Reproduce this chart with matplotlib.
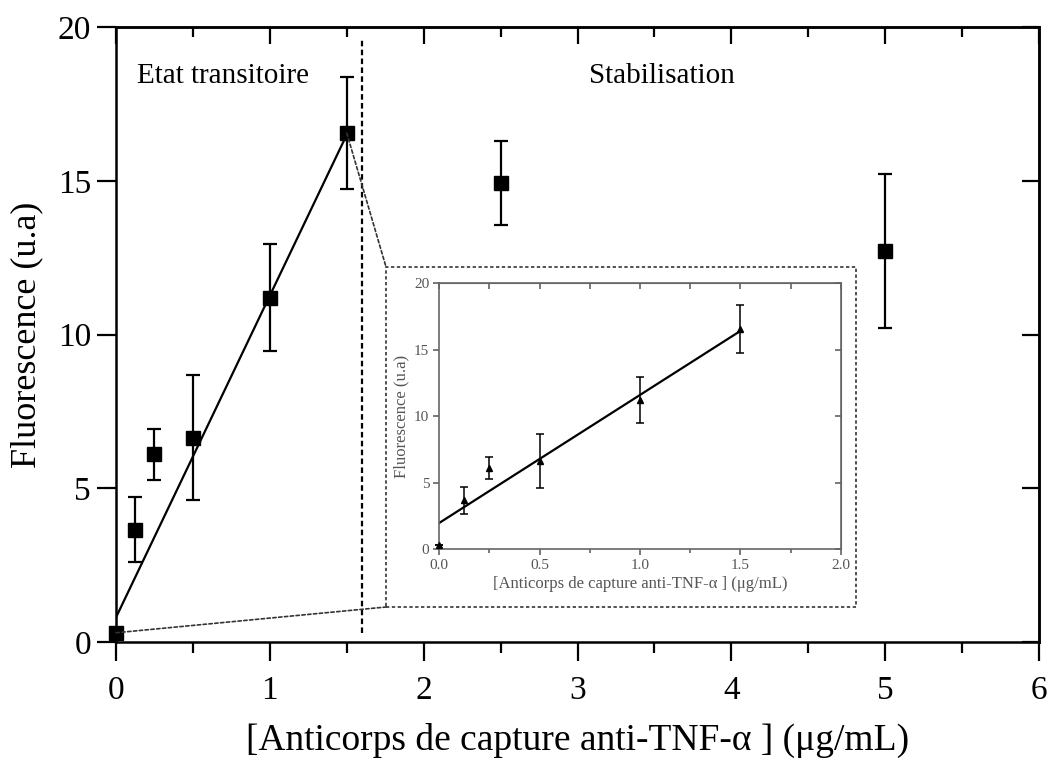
import numpy as np
import matplotlib
matplotlib.use("Agg")
import matplotlib.pyplot as plt
from matplotlib.ticker import MultipleLocator, FormatStrFormatter
from matplotlib.patches import Rectangle, ConnectionPatch

plt.rcParams['font.family'] = ['Liberation Serif', 'DejaVu Serif']

# données
conc = [0, 0.125, 0.25, 0.5, 1.0, 1.5, 2.5, 5.0]
fluo = [0.3, 3.65, 6.1, 6.65, 11.2, 16.55, 14.93, 12.72]
err = [0.0, 1.05, 0.83, 2.03, 1.75, 1.83, 1.38, 2.5]
n_trans = 6  # points de l'état transitoire

# droites de régression (extrémités lues)
fit_main_x = [0.0, 1.5]
fit_main_y = [0.8, 16.5]
fit_inset_x = [0.0, 1.5]
fit_inset_y = [1.95, 16.4]

xlabel = "[Anticorps de capture anti-TNF-\u03b1 ] (\u03bcg/mL)"
ylabel = "Fluorescence (u.a)"

fig = plt.figure(figsize=(10.49, 7.62), dpi=100)
ax = fig.add_axes([0.1106, 0.1575, 0.8799, 0.807])

ax.errorbar(conc, fluo, yerr=err, fmt='s', color='k', ms=10, capsize=5,
            elinewidth=1.6, capthick=1.6, zorder=3, clip_on=False)
ax.plot(fit_main_x, fit_main_y, color='k', lw=1.6)

# séparation des deux régimes
ax.plot([1.6, 1.6], [0.3, 19.6], color='k', lw=1.6, ls=(0, (2.5, 1.5)))
ax.text(0.137, 18.4, "Etat transitoire", fontsize=21, va='center', ha='left')
ax.text(3.55, 18.4, "Stabilisation", fontsize=21, va='center', ha='center')

ax.set_xlim(0, 6)
ax.set_ylim(0, 20)
ax.xaxis.set_major_locator(MultipleLocator(1))
ax.xaxis.set_minor_locator(MultipleLocator(0.5))
ax.yaxis.set_major_locator(MultipleLocator(5))
ax.tick_params(which='major', direction='out', length=14, width=1.6,
               labelsize=24, pad=10)
ax.tick_params(axis='y', pad=4)
ax.tick_params(which='minor', direction='out', length=8, width=1.6)
ax.set_xlabel(xlabel, fontsize=27, labelpad=12)
ax.set_ylabel(ylabel, fontsize=26, labelpad=10)
for s in ax.spines.values():
    s.set_linewidth(1.8)

top = ax.secondary_xaxis('top')
top.xaxis.set_major_locator(MultipleLocator(1))
top.xaxis.set_minor_locator(MultipleLocator(0.5))
top.tick_params(which='major', direction='in', length=12, width=1.6, labeltop=False)
top.tick_params(which='minor', direction='in', length=7, width=1.6)
top.spines['top'].set_linewidth(1.8)
right = ax.secondary_yaxis('right')
right.yaxis.set_major_locator(MultipleLocator(5))
right.tick_params(which='major', direction='in', length=12, width=1.6, labelright=False)
right.spines['right'].set_linewidth(1.8)

# cadre pointillé de l'encart
box = Rectangle((0.368, 0.2034), 0.448, 0.4462, transform=fig.transFigure,
                fill=True, facecolor='white', edgecolor='#333333', lw=1.2,
                ls=(0, (2, 1.5)), zorder=5)
fig.patches.append(box)
for i, yb in [(n_trans - 1, 0.6496), (0, 0.2034)]:
    con = ConnectionPatch(xyA=(conc[i], fluo[i]), coordsA=ax.transData,
                          xyB=(0.368, yb), coordsB=fig.transFigure,
                          color='#333333', lw=1.2, ls=(0, (2, 1.5)))
    fig.add_artist(con)

# encart
gray = '#555555'
ins = fig.add_axes([0.4185, 0.2795, 0.3832, 0.3491], zorder=6)
ins.errorbar(conc[:n_trans], fluo[:n_trans], yerr=err[:n_trans], fmt='^',
             color='k', ms=5, capsize=3, elinewidth=1.1, capthick=1.1,
             zorder=3, clip_on=False)
ins.plot(fit_inset_x, fit_inset_y, color='k', lw=1.6)
ins.set_xlim(0, 2)
ins.set_ylim(0, 20)
ins.xaxis.set_major_locator(MultipleLocator(0.5))
ins.xaxis.set_minor_locator(MultipleLocator(0.25))
ins.xaxis.set_major_formatter(FormatStrFormatter('%.1f'))
ins.yaxis.set_major_locator(MultipleLocator(5))
ins.tick_params(which='major', direction='out', length=4, width=1.1,
                color=gray, labelcolor=gray, labelsize=11, pad=3)
ins.tick_params(which='minor', direction='out', length=3, width=1.1, color=gray)
ins.set_xlabel(xlabel, fontsize=12, color=gray, labelpad=3)
ins.set_ylabel(ylabel, fontsize=12, color=gray, labelpad=3)
for s in ins.spines.values():
    s.set_linewidth(1.2)
    s.set_color('#666666')

itop = ins.secondary_xaxis('top')
itop.xaxis.set_major_locator(MultipleLocator(0.5))
itop.xaxis.set_minor_locator(MultipleLocator(0.25))
itop.tick_params(which='both', direction='in', length=4, width=1.1,
                 color=gray, labeltop=False)
itop.spines['top'].set_color('#666666')
iright = ins.secondary_yaxis('right')
iright.yaxis.set_major_locator(MultipleLocator(5))
iright.tick_params(which='major', direction='in', length=4, width=1.1,
                   color=gray, labelright=False)
iright.spines['right'].set_color('#666666')

fig.savefig("out.png", dpi=100)
